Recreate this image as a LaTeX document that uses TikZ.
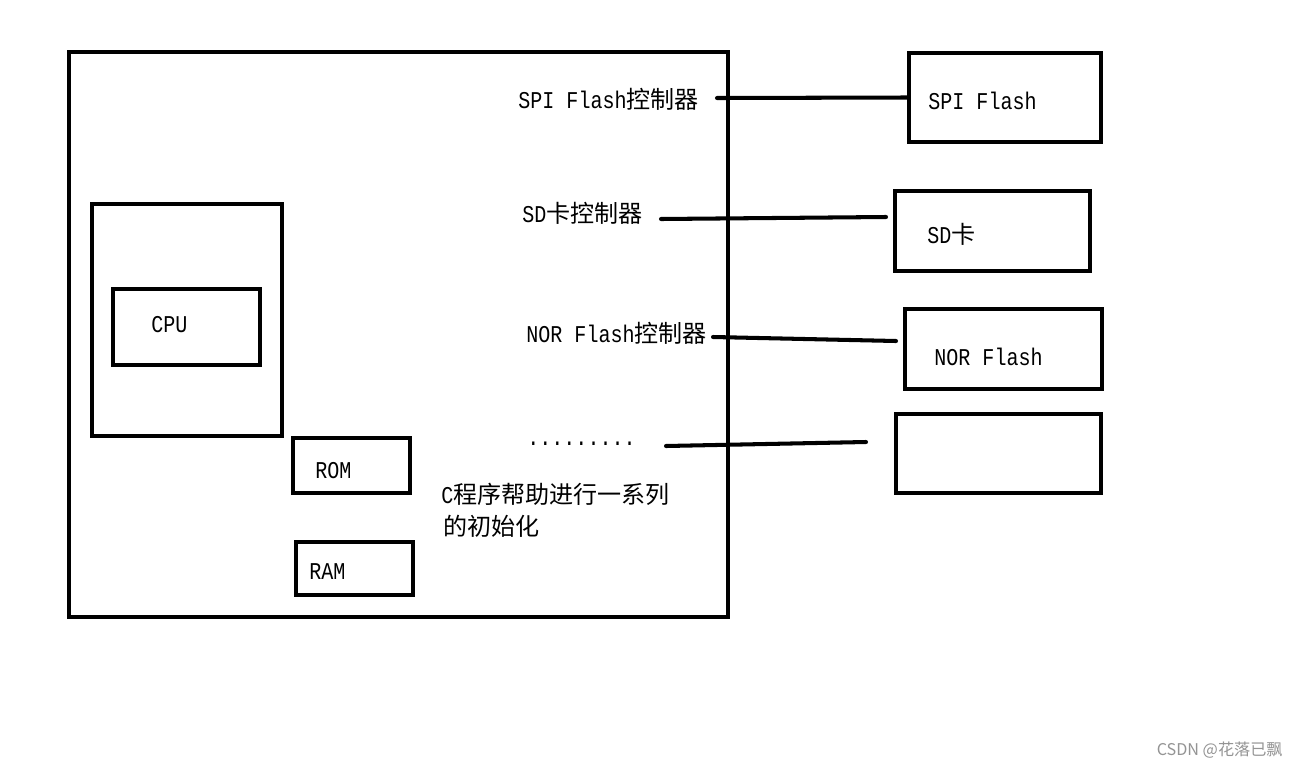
\documentclass[tikz,border=0pt]{standalone}
\usepackage{fontspec}
\setmainfont{Liberation Mono}[FakeStretch=0.833]
\newfontfamily\cjk{Noto Sans CJK SC}
\usetikzlibrary{fit}
\begin{document}
\begin{tikzpicture}[x=0.02cm, y=-0.02cm,
  box/.style={draw, line width=2.5pt, inner sep=0pt},
  conn/.style={line width=2.3pt, line cap=round},
  lbl/.style={anchor=west, inner sep=0pt, font=\fontsize{13.7pt}{16pt}\selectfont},
  wmark/.style={anchor=east, inner sep=0pt, text=black!42, font=\cjk\fontsize{9.2pt}{11pt}\selectfont}]
\useasboundingbox[fill=white] (0,0) rectangle (1299,768);

% boxes
\node[box, fit={(69,52) (728,617)}] (chip) {};
\node[box, fit={(92,204) (282,436)}] (core) {};
\node[box, fit={(113,289) (260,365)}] (cpu) {};
\node[box, fit={(293,438) (410,493)}] (rom) {};
\node[box, fit={(296,542) (413,595)}] (ram) {};
\node[box, fit={(909,53) (1101,142)}] (spibox) {};
\node[box, fit={(895,191) (1090,271)}] (sdbox) {};
\node[box, fit={(905,309) (1102,389)}] (norbox) {};
\node[box, fit={(896,414) (1101,493)}] (otherbox) {};

% labels in boxes
\node[lbl] (cputxt) at (151,325) {CPU};
\node[lbl] (romtxt) at (315,471) {ROM};
\node[lbl] (ramtxt) at (309,572) {RAM};
\node[lbl] (spitxt) at (928,101) {SPI Flash};
\node[lbl] (sdtxt) at (927,234) {SD{\cjk 卡}};
\node[lbl] (nortxt) at (934,357) {NOR Flash};

% controller labels
\node[lbl] (spictl) at (518,99) {SPI Flash{\cjk 控制器}};
\node[lbl] (sdctl) at (522,213) {SD{\cjk 卡控制器}};
\node[lbl] (norctl) at (526,333) {NOR Flash{\cjk 控制器}};
\node[lbl, anchor=base west] (dots) at (527,445) {.........};
\node[lbl] (note1) at (441,494) {C{\cjk 程序帮助进行一系列}};
\node[lbl] (note2) at (443,526) {{\cjk 的初始化}};

% connectors
\coordinate (spiA) at (717,98);
\coordinate (sdA) at (661,219);
\coordinate (sdB) at (886,217);
\coordinate (norA) at (713,337);
\coordinate (norB) at (896,341);
\coordinate (othA) at (666,446);
\coordinate (othB) at (866,442);
\draw[conn] (spiA) -- (spibox.west);
\draw[conn] (sdA) -- (sdB);
\draw[conn] (norA) -- (norB);
\draw[conn] (othA) -- (othB);

% watermark
\node[wmark] (wm) at (1283,750) {CSDN @花落已飘};
\end{tikzpicture}
\end{document}
